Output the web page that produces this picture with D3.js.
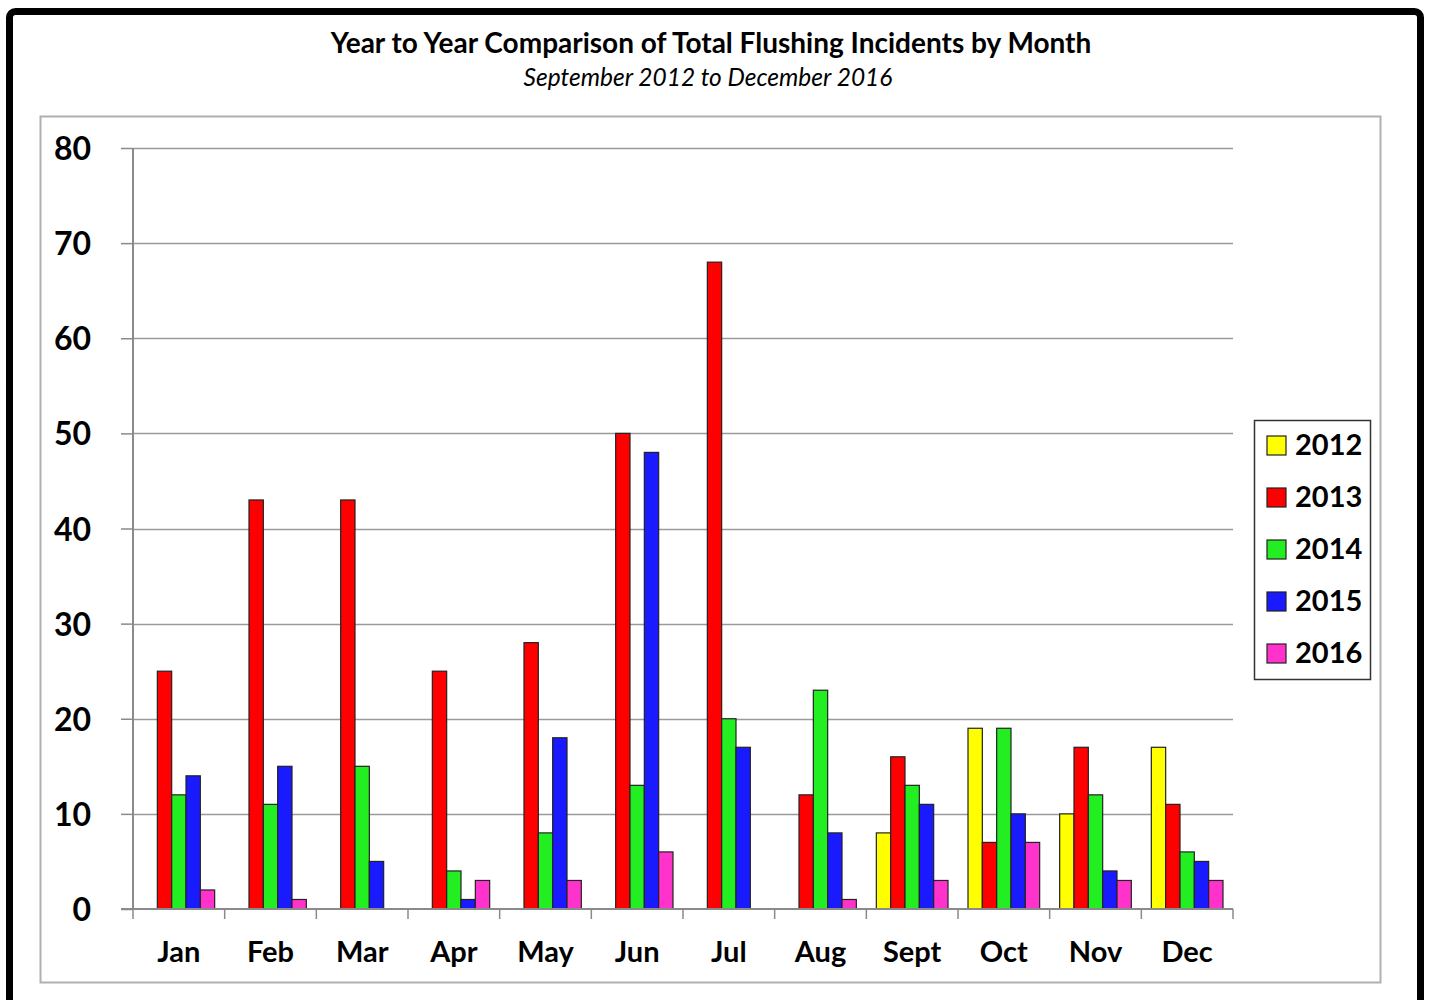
<!DOCTYPE html>
<html lang="en">
  <head>
    <meta charset="UTF-8" />
    <title>Year to Year Comparison of Total Flushing Incidents by Month</title>
    <script src="https://d3js.org/d3.v7.min.js"></script>
    <style>
      body {
        margin: 0;
        background: #fff;
      }
      .chart text {
        font-family: Lato, "Open Sans", sans-serif;
        fill: #000;
      }
    </style>
  </head>
  <body>
    <div class="chart"></div>
  </body>

  <script>
    // data
    var months = ["Jan", "Feb", "Mar", "Apr", "May", "Jun", "Jul", "Aug", "Sept", "Oct", "Nov", "Dec"];
    var years = ["2012", "2013", "2014", "2015", "2016"];
    var colors = ["#ffff00", "#ff0000", "#22ee22", "#1a1aff", "#ff33cc"];
    var y2012 = [null, null, null, null, null, null, null, null, 8, 19, 10, 17];
    var y2013 = [25, 43, 43, 25, 28, 50, 68, 12, 16, 7, 17, 11];
    var y2014 = [12, 11, 15, 4, 8, 13, 20, 23, 13, 19, 12, 6];
    var y2015 = [14, 15, 5, 1, 18, 48, 17, 8, 11, 10, 4, 5];
    var y2016 = [2, 1, null, 3, 3, 6, null, 1, 3, 7, 3, 3];
    var yTicks = [0, 10, 20, 30, 40, 50, 60, 70, 80];

    var series = [y2012, y2013, y2014, y2015, y2016];

    var W = 1429, H = 1000;
    var margin = { top: 148, right: 196, bottom: 91, left: 133 };
    var width = W - margin.left - margin.right;
    var height = H - margin.top - margin.bottom;

    var svgContainer = d3
      .select(".chart")
      .append("svg")
      .attr("width", W)
      .attr("height", H);

    // outer black frame
    svgContainer
      .append("rect")
      .attr("x", 9.5)
      .attr("y", 11.5)
      .attr("width", 1411)
      .attr("height", 1010)
      .attr("rx", 6)
      .attr("fill", "#fff")
      .attr("stroke", "#000")
      .attr("stroke-width", 7);

    // plot area box
    svgContainer
      .append("rect")
      .attr("x", 40.5)
      .attr("y", 116.5)
      .attr("width", 1340)
      .attr("height", 866)
      .attr("fill", "none")
      .attr("stroke", "#b0b0b0")
      .attr("stroke-width", 2);

    // titles
    svgContainer
      .append("text")
      .attr("x", 711)
      .attr("y", 53)
      .attr("text-anchor", "middle")
      .style("font-size", "28px")
      .style("font-weight", "bold")
      .text("Year to Year Comparison of Total Flushing Incidents by Month");

    svgContainer
      .append("text")
      .attr("x", 708)
      .attr("y", 86)
      .attr("text-anchor", "middle")
      .style("font-size", "24.5px")
      .style("font-style", "italic")
      .text("September 2012 to December 2016");

    var svg = svgContainer
      .append("g")
      .attr("transform", "translate(" + margin.left + "," + margin.top + ")");

    var x0 = d3.scaleBand().domain(months).range([0, width]).paddingInner(0).paddingOuter(0);
    var x1 = d3.scaleBand().domain(years).range([10, x0.bandwidth() - 10]);
    var y = d3.scaleLinear().domain([0, 80]).range([height, 0]);
    var color = d3.scaleOrdinal().domain(years).range(colors);

    // gridlines
    svg
      .append("g")
      .selectAll("line")
      .data(yTicks.filter(function (d) { return d > 0; }))
      .enter()
      .append("line")
      .attr("x1", 0)
      .attr("x2", width)
      .attr("y1", function (d) { return Math.round(y(d)) + 0.5; })
      .attr("y2", function (d) { return Math.round(y(d)) + 0.5; })
      .attr("stroke", "#9a9a9a")
      .attr("stroke-width", 1.5);

    // y axis
    var yAxis = svg
      .append("g")
      .call(d3.axisLeft(y).tickValues(yTicks).tickSize(12).tickPadding(30));
    yAxis.select(".domain").attr("stroke", "#8a8a8a").attr("stroke-width", 2).attr("d", "M0," + height + "V0");
    yAxis.selectAll(".tick line").attr("stroke", "#8a8a8a").attr("stroke-width", 1.5);
    yAxis
      .selectAll(".tick text")
      .style("font-size", "32px")
      .style("font-weight", "bold")
      .attr("dy", "0.36em");

    // bars
    var groups = svg
      .append("g")
      .selectAll("g")
      .data(months)
      .enter()
      .append("g")
      .attr("transform", function (d) { return "translate(" + x0(d) + ",0)"; });

    groups
      .selectAll("rect")
      .data(function (m, i) {
        return years.map(function (yr, j) {
          return { year: yr, value: series[j][i] };
        }).filter(function (d) { return d.value != null && d.value > 0; });
      })
      .enter()
      .append("rect")
      .attr("x", function (d) { return x1(d.year); })
      .attr("width", x1.bandwidth())
      .attr("y", function (d) { return y(d.value); })
      .attr("height", function (d) { return height - y(d.value); })
      .attr("fill", function (d) { return color(d.year); })
      .attr("stroke", "#222")
      .attr("stroke-width", 1.2);

    // x axis
    var xAxis = svg
      .append("g")
      .attr("transform", "translate(0," + height + ")")
      .call(d3.axisBottom(x0).tickSize(0).tickPadding(32));
    xAxis.select(".domain").remove();
    xAxis
      .append("line")
      .attr("x1", -12)
      .attr("x2", width)
      .attr("stroke", "#8a8a8a")
      .attr("stroke-width", 2);
    xAxis
      .selectAll(".boundary")
      .data(d3.range(months.length + 1))
      .enter()
      .append("line")
      .attr("class", "boundary")
      .attr("x1", function (i) { return i * x0.step(); })
      .attr("x2", function (i) { return i * x0.step(); })
      .attr("y1", 0)
      .attr("y2", 10)
      .attr("stroke", "#8a8a8a")
      .attr("stroke-width", 1.5);
    xAxis
      .selectAll(".tick text")
      .style("font-size", "29px")
      .style("font-weight", "bold");

    // legend
    var legend = svgContainer.append("g").attr("transform", "translate(1254,420)");
    legend
      .append("rect")
      .attr("x", 0.5)
      .attr("y", 0.5)
      .attr("width", 116)
      .attr("height", 259)
      .attr("fill", "#fff")
      .attr("stroke", "#333")
      .attr("stroke-width", 1.5);
    var items = legend
      .selectAll(".item")
      .data(years)
      .enter()
      .append("g")
      .attr("class", "item")
      .attr("transform", function (d, i) { return "translate(0," + (25 + i * 52) + ")"; });
    items
      .append("rect")
      .attr("x", 13)
      .attr("y", -9)
      .attr("width", 19)
      .attr("height", 19)
      .attr("fill", function (d) { return color(d); })
      .attr("stroke", "#222")
      .attr("stroke-width", 1.2);
    items
      .append("text")
      .attr("x", 41)
      .attr("dy", "0.36em")
      .style("font-size", "29px")
      .style("font-weight", "bold")
      .text(function (d) { return d; });
  </script>
</html>
